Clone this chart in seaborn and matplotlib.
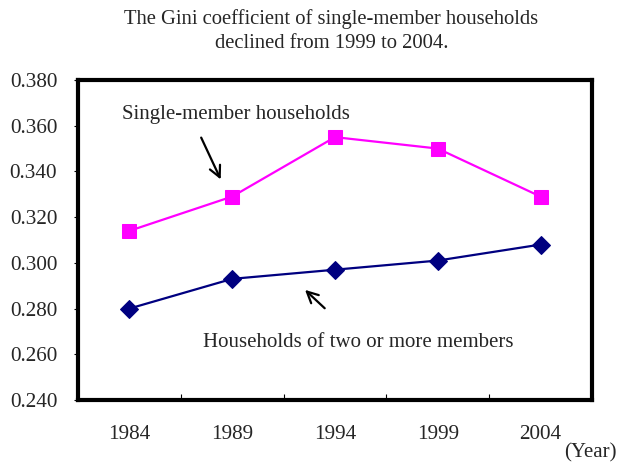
import matplotlib
matplotlib.use("Agg")
import matplotlib.pyplot as plt
import seaborn as sns
import pandas as pd
from matplotlib.ticker import FixedLocator

years = ["1984", "1989", "1994", "1999", "2004"]
single = [0.314, 0.329, 0.355, 0.350, 0.329]
two_plus = [0.280, 0.293, 0.297, 0.301, 0.308]
yticks = [0.240, 0.260, 0.280, 0.300, 0.320, 0.340, 0.360, 0.380]

sns.set_theme(style="white")
plt.rcParams["font.family"] = ["Liberation Serif", "DejaVu Serif"]

df = pd.DataFrame({
    "pos": list(range(len(years))) * 2,
    "gini": single + two_plus,
    "group": ["single"] * len(years) + ["two"] * len(years),
})

fig = plt.figure(figsize=(6.17, 4.67), dpi=100)
ax = fig.add_axes([0.1264, 0.1435, 0.833, 0.6852])

sns.lineplot(data=df[df.group == "single"], x="pos", y="gini", ax=ax,
             color="#FF00FF", marker="s", markersize=10, linewidth=1.6,
             markeredgecolor="#FF00FF")
sns.lineplot(data=df[df.group == "two"], x="pos", y="gini", ax=ax,
             color="#000080", marker="D", markersize=9.5, linewidth=1.6,
             markeredgecolor="#000080")

ax.set_xlim(-0.5, len(years) - 0.5)
ax.set_ylim(0.240, 0.380)
ax.set_xticks(range(len(years)))
ax.set_xticklabels(years, fontsize=15.3)
ax.xaxis.set_minor_locator(FixedLocator([i + 0.5 for i in range(len(years) - 1)]))
ax.tick_params(axis="x", which="major", length=0, pad=18)
ax.tick_params(axis="x", which="minor", direction="in", length=4, width=0.8,
               color="black", bottom=True)
ax.set_yticks(yticks)
ax.set_yticklabels([f"{v:.3f}" for v in yticks], fontsize=15.3)
ax.tick_params(axis="y", which="major", direction="out", length=3, width=0.8,
               color="black", left=True, pad=12)
ax.set_xlabel("")
ax.set_ylabel("")

for side in ax.spines.values():
    side.set_visible(True)
    side.set_color("black")
    side.set_linewidth(3.0)

fig.text(0.537, 0.960, "The Gini coefficient of single-member households",
         ha="center", va="center", fontsize=14.9)
fig.text(0.537, 0.906, "declined from 1999 to 2004.",
         ha="center", va="center", fontsize=14.9)

ax.text(-0.072, 0.3648, "Single-member households", fontsize=15, va="center",
        ha="left")
ax.annotate("", xy=(0.90, 0.3354), xytext=(0.687, 0.3559),
            arrowprops=dict(arrowstyle="->", color="black", lw=1.6,
                            mutation_scale=20))
ax.text(0.716, 0.2653, "Households of two or more members", fontsize=15,
        va="center", ha="left")
ax.annotate("", xy=(1.689, 0.2890), xytext=(1.92, 0.2793),
            arrowprops=dict(arrowstyle="->", color="black", lw=1.6,
                            mutation_scale=20))

fig.text(0.999, 0.031, "(Year)", ha="right", va="center", fontsize=15)

fig.savefig("out.png", dpi=100)
